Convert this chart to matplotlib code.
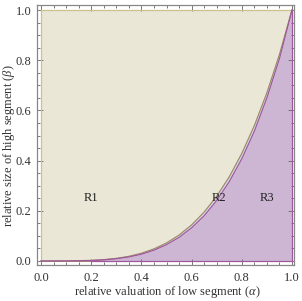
import matplotlib
matplotlib.use("Agg")
import matplotlib.pyplot as plt
from matplotlib.ticker import MultipleLocator

# boundary curves
alpha = [0.00, 0.10, 0.20, 0.25, 0.30, 0.35, 0.40, 0.45, 0.50, 0.55,
         0.60, 0.65, 0.70, 0.75, 0.80, 0.85, 0.90, 0.95, 1.00]
beta_upper = [0.0, 0.0002, 0.0022, 0.0052, 0.0103, 0.0185, 0.0307, 0.0481, 0.0718, 0.1031,
              0.1435, 0.1946, 0.2579, 0.3351, 0.4283, 0.5392, 0.6701, 0.8229, 1.0]
beta_lower = [0.0, 0.0001, 0.0018, 0.0045, 0.0090, 0.0160, 0.0270, 0.0430, 0.0650, 0.0940,
              0.1320, 0.1800, 0.2410, 0.3160, 0.4070, 0.5170, 0.6500, 0.8060, 1.0]

region_labels = ["R1", "R2", "R3"]
label_alpha = [0.20, 0.71, 0.90]
label_beta = [0.25, 0.25, 0.25]

xticks = [0.0, 0.2, 0.4, 0.6, 0.8, 1.0]
yticks = [0.0, 0.2, 0.4, 0.6, 0.8, 1.0]

plt.rcParams['font.family'] = ['Liberation Serif', 'DejaVu Serif']
plt.rcParams['mathtext.fontset'] = 'custom'
plt.rcParams['mathtext.rm'] = 'Liberation Serif'
plt.rcParams['mathtext.it'] = 'Liberation Serif:italic'

fig = plt.figure(figsize=(3.02, 3.01), dpi=100)
ax = fig.add_axes([37/302, 36/301, (294-37)/302, (296-36)/301])

c_r1 = '#EAE7D7'
c_r2 = '#D5D5EC'
c_r3 = '#CDB6D3'
c_r1_line = '#C9C28C'
c_up_line = '#9A8C68'
c_lo_line = '#A0589C'

ones = [1.0] * len(alpha)
zeros = [0.0] * len(alpha)
ax.fill_between(alpha, beta_upper, ones, color=c_r1, lw=0)
ax.fill_between(alpha, beta_lower, beta_upper, color=c_r2, lw=0)
ax.fill_between(alpha, zeros, beta_lower, color=c_r3, lw=0)

ax.plot([0, 0], [0, 1], color=c_r1_line, lw=0.9)
ax.plot([0, 1], [1, 1], color=c_r1_line, lw=0.9)
ax.plot([0, 0.2], [0, 0], color=c_up_line, lw=0.7)
ax.plot(alpha, beta_upper, color=c_up_line, lw=0.9)
ax.plot(alpha, beta_lower, color=c_lo_line, lw=0.9)
ax.plot([0.2, 1], [0, 0], color=c_lo_line, lw=0.9)
ax.plot([1, 1], [0, 1], color=c_lo_line, lw=0.9)

for t, a, b in zip(region_labels, label_alpha, label_beta):
    ax.text(a, b, t, ha='center', va='center', fontsize=9, color='#222222')

ax.set_xlim(-0.016, 1.008)
ax.set_ylim(-0.016, 1.02)
ax.set_xticks(xticks)
ax.set_yticks(yticks)
ax.set_xticklabels([f"{v:.1f}" for v in xticks])
ax.set_yticklabels([f"{v:.1f}" for v in yticks])
ax.xaxis.set_minor_locator(MultipleLocator(0.05))
ax.yaxis.set_minor_locator(MultipleLocator(0.05))
ax.tick_params(which='both', direction='in', top=True, right=True, color='#777777', width=0.7)
ax.tick_params(which='major', length=4, labelsize=9, labelcolor='#333333')
ax.tick_params(axis='x', which='major', pad=5)
ax.tick_params(axis='y', which='major', pad=4)
ax.tick_params(which='minor', length=2)
for s in ax.spines.values():
    s.set_color('#888888')
    s.set_linewidth(0.9)

fig.text(167/302, 1 - 292.5/301, r"relative valuation of low segment ($\alpha$)",
         fontsize=9, color='#333333', ha='center', va='center')
fig.text(9/302, 1 - 146/301, r"relative size of high segment ($\beta$)",
         fontsize=9, color='#333333', ha='center', va='center', rotation=90)

fig.savefig("out.png", dpi=100)
